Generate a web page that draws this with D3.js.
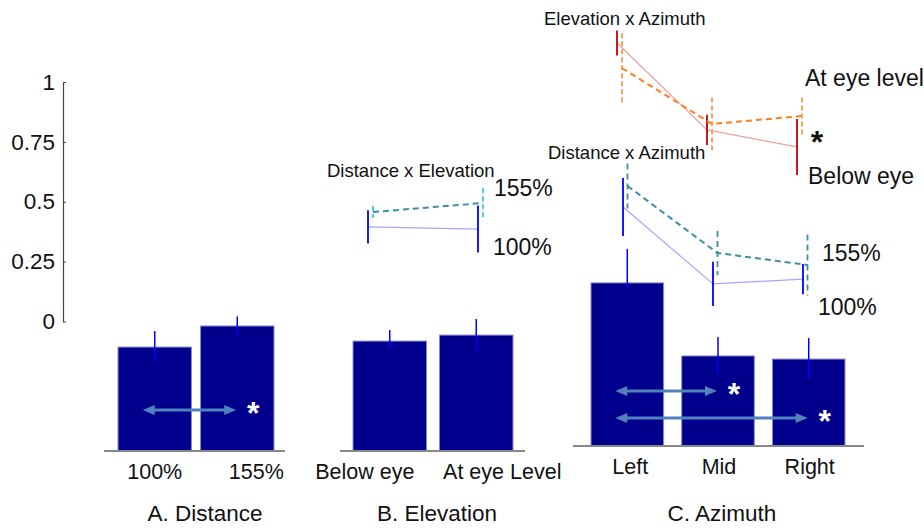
<!DOCTYPE html>
<html><head><meta charset="utf-8">
<script src="https://cdn.jsdelivr.net/npm/d3@7"></script>
<style>
body{margin:0;background:#fff;}
text{font-family:"Liberation Sans",Arial,sans-serif;fill:#111;}
</style></head>
<body><svg id="c" width="924" height="528"></svg>
<script>
// ---------- DATA ----------
const yTicks = [0, 0.25, 0.5, 0.75, 1];
const yTickLabels = ["0", "0.25", "0.5", "0.75", "1"];

const distCats = ["100%", "155%"];
const distVals = [0.434, 0.522];
const distErrUp = [0.067, 0.040];
const distErrDn = [0.067, 0.042];

const elevCats = ["Below eye", "At eye Level"];
const elevVals = [0.459, 0.484];
const elevErrUp = [0.046, 0.067];
const elevErrDn = [0.033, 0.067];

const aziCats = ["Left", "Mid", "Right"];
const aziVals = [0.681, 0.376, 0.363];
const aziErrUp = [0.142, 0.079, 0.088];
const aziErrDn = [0.025, 0.079, 0.084];

const panelTitles = ["A. Distance", "B. Elevation", "C. Azimuth"];

// significant comparisons (from, to, level in bar units)
const distComparisons = [["100%", "155%", 0.171]];
const aziComparisons = [["Left", "Mid", 0.230], ["Left", "Right", 0.117]];

// interaction: Distance x Elevation
const dxeTitle = "Distance x Elevation";
const dxeSeries = ["100%", "155%"];
const dxe100 = [0.395, 0.386];
const dxe100Err = [0.069, 0.098];
const dxe155 = [0.457, 0.495];
const dxe155Err = [0.025, 0.061];

// interaction: Elevation x Azimuth
const exaTitle = "Elevation x Azimuth";
const exaSeries = ["Below eye", "At eye level"];
const exaBelow = [1.163, 0.800, 0.729];
const exaBelowErr = [0.052, 0.063, 0.117];
const exaAt = [1.058, 0.825, 0.858];
const exaAtErr = [0.146, 0.111, 0.077];

// interaction: Distance x Azimuth
const dxaTitle = "Distance x Azimuth";
const dxaSeries = ["155%", "100%"];
const dxa100 = [0.478, 0.157, 0.177];
const dxa100Err = [0.121, 0.092, 0.063];
const dxa155 = [0.566, 0.286, 0.236];
const dxa155Err = [0.094, 0.092, 0.127];

// ---------- DRAW ----------
const svg = d3.select("#c");
const PX_PER_UNIT = 239.5;

// main y axis
const y = d3.scaleLinear().domain([0, 1]).range([321.5, 321.5 - PX_PER_UNIT]);
const yAxis = d3.axisLeft(y).tickValues(yTicks)
  .tickFormat((d, i) => yTickLabels[i]).tickSizeInner(-3).tickSizeOuter(0).tickPadding(8);
const ga = svg.append("g").attr("transform", "translate(63,0)").call(yAxis);
ga.select(".domain").attr("stroke", "#444").attr("stroke-width", 1.2);
ga.selectAll(".tick line").attr("stroke", "#444");
ga.selectAll(".tick text").attr("font-size", 22.5).attr("fill", "#111")
  .style("font-family", "Liberation Sans, Arial, sans-serif");

const BAR_FILL = "#00008c", BAR_STROKE = "#8a8acc", ERR = "#0000ff", ARROW = "#4f81bd";

function barPanel(opt) {
  const x = d3.scaleBand().domain(opt.cats).range(opt.range).paddingInner(opt.pad).paddingOuter(0);
  const yb = d3.scaleLinear().domain([0, 1]).range([opt.base, opt.base - PX_PER_UNIT]);
  const g = svg.append("g");
  const bw = x.bandwidth();
  g.selectAll("rect").data(opt.cats).join("rect")
    .attr("x", d => x(d)).attr("width", bw)
    .attr("y", (d, i) => yb(opt.vals[i])).attr("height", (d, i) => yb(0) - yb(opt.vals[i]))
    .attr("fill", BAR_FILL).attr("stroke", BAR_STROKE).attr("stroke-width", 1);
  g.selectAll("line.err").data(opt.cats).join("line").attr("class", "err")
    .attr("x1", d => x(d) + bw / 2).attr("x2", d => x(d) + bw / 2)
    .attr("y1", (d, i) => yb(opt.vals[i] + opt.up[i])).attr("y2", (d, i) => yb(opt.vals[i] - opt.dn[i]))
    .attr("stroke", ERR).attr("stroke-width", 1.5);
  // baseline
  g.append("line").attr("x1", opt.axisExt[0]).attr("x2", opt.axisExt[1])
    .attr("y1", yb(0)).attr("y2", yb(0)).attr("stroke", "#888").attr("stroke-width", 2);
  // category labels
  g.selectAll("text.cat").data(opt.cats).join("text").attr("class", "cat")
    .attr("x", (d, i) => x(d) + bw / 2 + opt.labelShift[i]).attr("y", opt.labelY)
    .attr("text-anchor", "middle").attr("font-size", 21.5).text(d => d);
  // title
  g.append("text").attr("x", opt.titleX).attr("y", 521).attr("text-anchor", "middle")
    .attr("font-size", 22.5).text(opt.title);
  // comparisons
  (opt.comps || []).forEach(c => {
    const x1 = x(c[0]) + bw / 2 - 12, x2 = x(c[1]) + bw / 2 - 1, yy = yb(c[2]);
    g.append("line").attr("x1", x1 + 8).attr("x2", x2 - 8).attr("y1", yy).attr("y2", yy)
      .attr("stroke", ARROW).attr("stroke-width", 3);
    g.append("path").attr("d", `M${x1},${yy}L${x1 + 12},${yy - 5}L${x1 + 12},${yy + 5}Z`).attr("fill", ARROW);
    g.append("path").attr("d", `M${x2},${yy}L${x2 - 12},${yy - 5}L${x2 - 12},${yy + 5}Z`).attr("fill", ARROW);
    g.append("text").attr("x", x2 + 17).attr("y", yy + 14).attr("text-anchor", "middle")
      .attr("font-size", 32).attr("font-weight", "bold").style("fill", "#fff").text("*");
  });
}

barPanel({cats: distCats, vals: distVals, up: distErrUp, dn: distErrDn, range: [118, 274], pad: 0.11,
  base: 451, axisExt: [104, 285], labelShift: [0, 19], labelY: 479, title: panelTitles[0], titleX: 205,
  comps: distComparisons});
barPanel({cats: elevCats, vals: elevVals, up: elevErrUp, dn: elevErrDn, range: [353, 513], pad: 0.15,
  base: 451, axisExt: [340, 525], labelShift: [-25, 26], labelY: 479, title: panelTitles[1], titleX: 437});
barPanel({cats: aziCats, vals: aziVals, up: aziErrUp, dn: aziErrDn, range: [591, 845], pad: 0.2,
  base: 446, axisExt: [573, 864], labelShift: [3, 1, 1], labelY: 474, title: panelTitles[2], titleX: 722,
  comps: aziComparisons});

// interaction plots
function series(g, xs, cats, vals, errs, dx, st) {
  const line = d3.line().x((d, i) => xs(cats[i]) + dx).y(d => y(d));
  g.append("path").datum(vals).attr("d", line).attr("fill", "none")
    .attr("stroke", st.line).attr("stroke-width", st.lw).attr("stroke-dasharray", st.dash || null);
  g.selectAll(null).data(vals).join("line")
    .attr("x1", (d, i) => xs(cats[i]) + dx).attr("x2", (d, i) => xs(cats[i]) + dx)
    .attr("y1", (d, i) => y(d + errs[i])).attr("y2", (d, i) => y(d - errs[i]))
    .attr("stroke", st.err).attr("stroke-width", 1.8).attr("stroke-dasharray", st.edash || null);
}
const solidBlue = {line: "#a6a6ff", lw: 1.2, err: "#0000ff"};
const dashTeal = {line: "#3b8fa5", lw: 2, dash: "6,4", err: "#3b8fa5", edash: "6,4"};

// Distance x Elevation
{
  const g = svg.append("g");
  const xs = d3.scalePoint().domain(elevCats).range([368, 478]);
  series(g, xs, elevCats, dxe100, dxe100Err, 0, solidBlue);
  series(g, xs, elevCats, dxe155, dxe155Err, 5, Object.assign({}, dashTeal, {err: "#33c6f0", edash: "5,3"}));
  g.append("text").attr("x", 327).attr("y", 177).attr("font-size", 18.5).text(dxeTitle);
  g.append("text").attr("x", 494).attr("y", 196).attr("font-size", 23).text(dxeSeries[1]);
  g.append("text").attr("x", 493).attr("y", 255).attr("font-size", 23).text(dxeSeries[0]);
}
// Elevation x Azimuth
{
  const g = svg.append("g");
  const xs = d3.scalePoint().domain(aziCats).range([617, 797]);
  series(g, xs, aziCats, exaBelow, exaBelowErr, 0, {line: "#f0a0a0", lw: 1.2, err: "#c00000"});
  series(g, xs, aziCats, exaAt, exaAtErr, 5, {line: "#ff7f1e", lw: 2, dash: "6,4", err: "#ff9a4a", edash: "5,3"});
  g.append("text").attr("x", 544).attr("y", 25).attr("font-size", 18.5).text(exaTitle);
  g.append("text").attr("x", 805).attr("y", 86).attr("font-size", 23).text(exaSeries[1]);
  g.append("text").attr("x", 808).attr("y", 184).attr("font-size", 23).text(exaSeries[0]);
  g.append("text").attr("x", 817).attr("y", 153).attr("text-anchor", "middle")
    .attr("font-size", 32).attr("font-weight", "bold").text("*");
}
// Distance x Azimuth
{
  const g = svg.append("g");
  const xs = d3.scalePoint().domain(aziCats).range([623, 803]);
  series(g, xs, aziCats, dxa100, dxa100Err, 0, solidBlue);
  series(g, xs, aziCats, dxa155, dxa155Err, 4.5, dashTeal);
  g.append("text").attr("x", 548).attr("y", 159).attr("font-size", 18.5).text(dxaTitle);
  g.append("text").attr("x", 822).attr("y", 261).attr("font-size", 23).text(dxaSeries[0]);
  g.append("text").attr("x", 818).attr("y", 315).attr("font-size", 23).text(dxaSeries[1]);
}
</script></body></html>
